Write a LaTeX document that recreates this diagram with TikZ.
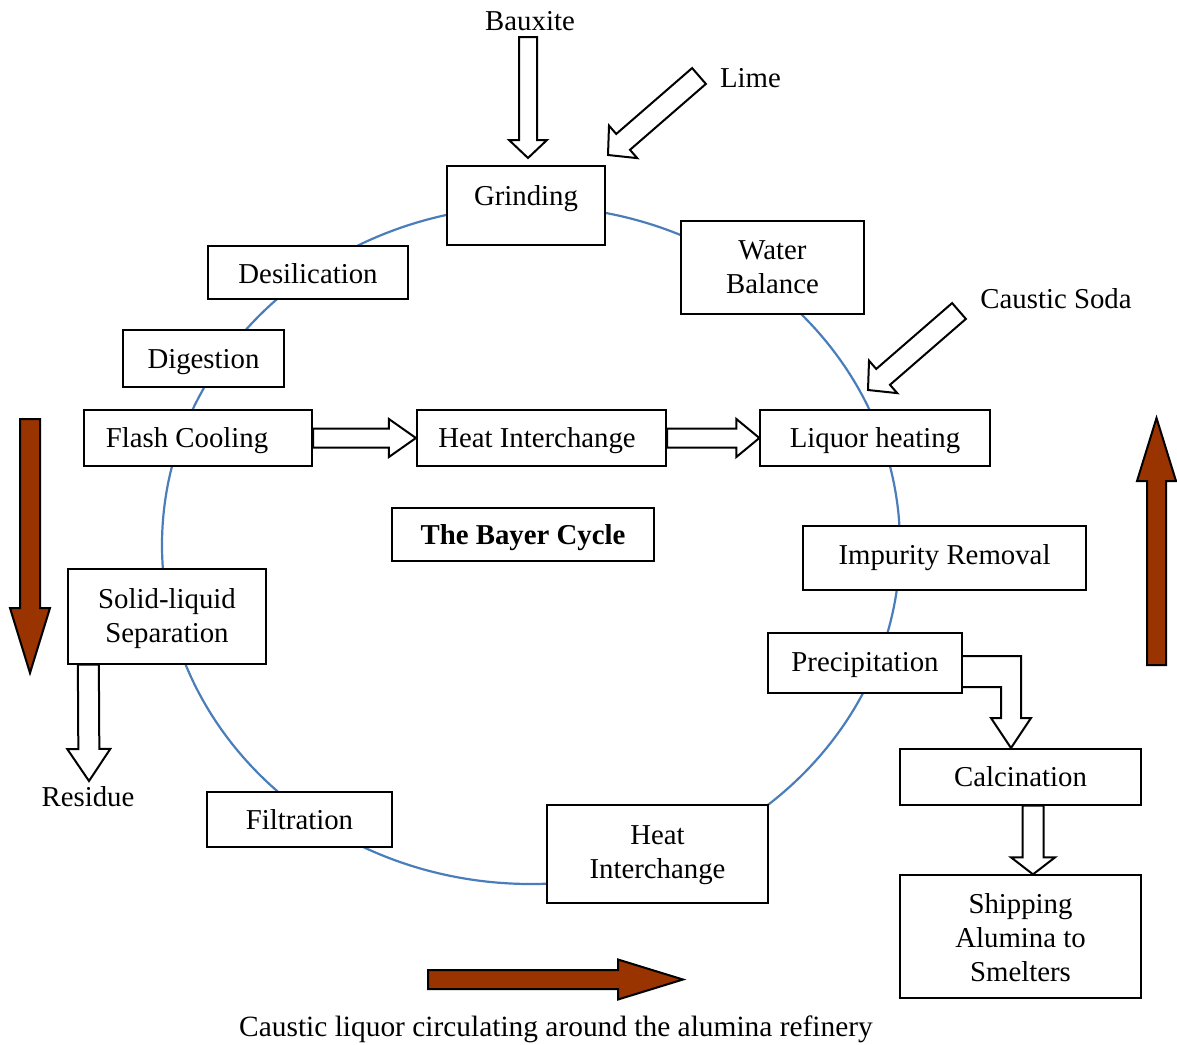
\documentclass[tikz,border=0pt]{standalone}
\usepackage{fontspec}
\setmainfont{Liberation Serif}
\usetikzlibrary{calc}
\pgfdeclarelayer{background}
\pgfsetlayers{background,main}
\definecolor{ringblue}{RGB}{74,126,187}
\definecolor{liquorbrown}{RGB}{153,51,0}
\tikzset{
  box/.style={draw=black, fill=white, line width=1.3pt, inner sep=0pt, align=center,
    font=\fontsize{28.8}{34}\selectfont,
    execute at begin node=\strut, execute at end node=\strut},
  thickbox/.style={box, line width=2.2pt},
  txt/.style={inner sep=0pt, align=center, font=\fontsize{28.8}{34}\selectfont,
    execute at begin node=\strut, execute at end node=\strut},
  liftup/.style={execute at end node={\rule[-#1]{0pt}{#1}}},
  lowerby/.style={execute at begin node={\rule{0pt}{#1}}},
  padright/.style={execute at end node={\hspace*{#1}}},
  hollowarrow/.style={draw=black, fill=white, line width=2pt, line join=miter},
  brownarrow/.style={draw=black, fill=liquorbrown, line width=2pt, line join=miter},
  ringline/.style={draw=ringblue, line width=2.2pt},
}
\newcommand\tallfirst[1]{\rule{0pt}{#1}}
% [style]{start}{tip}{half shaft}{half head}{head length}
\newcommand\blockarrow[6][hollowarrow]{%
  \coordinate (baA) at (#2);
  \coordinate (baB) at (#3);
  \coordinate (baC) at ($(baB)!#6!(baA)$);
  \draw[#1] ($(baA)!#4!90:(baB)$) -- ($(baC)!#4!90:(baB)$) -- ($(baC)!#5!90:(baB)$)
    -- (baB) -- ($(baC)!#5!-90:(baB)$) -- ($(baC)!#4!-90:(baB)$)
    -- ($(baA)!#4!-90:(baB)$) -- cycle;
}
\begin{document}
\begin{tikzpicture}[x=1pt,y=-1pt]
\useasboundingbox (0,0) rectangle (1177,1044);

% boxes
\node[thickbox, minimum width=158pt, minimum height=79pt, liftup=24pt] (grind) at (526,205.5) {Grinding};
\node[box, minimum width=200pt, minimum height=53pt, lowerby=32pt] (desil) at (308,272.5) {Desilication};
\node[box, minimum width=161pt, minimum height=57pt, lowerby=30pt] (digest) at (203.5,358.5) {Digestion};
\node[thickbox, minimum width=228pt, minimum height=56pt, lowerby=29pt, padright=22pt] (flash) at (198,438) {Flash Cooling};
\node[thickbox, minimum width=249pt, minimum height=56pt, lowerby=29pt, padright=9pt] (heat1) at (541.5,438) {Heat Interchange};
\node[box, minimum width=230pt, minimum height=56pt, lowerby=29pt] (liquor) at (875,438) {Liquor heating};
\node[box, minimum width=183pt, minimum height=93pt] (water) at (772.5,267.5) {\tallfirst{27.5pt}Water\\Balance};
\node[box, minimum width=262pt, minimum height=53pt, lowerby=31pt, font=\fontsize{28.8}{34}\selectfont\bfseries] (bayer) at (523,534.5) {The Bayer Cycle};
\node[box, minimum width=283pt, minimum height=64pt] (impurity) at (944.5,558) {Impurity Removal};
\node[box, minimum width=194pt, minimum height=60pt, lowerby=27pt] (precip) at (865,663) {Precipitation};
\node[box, minimum width=241pt, minimum height=56pt, lowerby=29pt] (calcin) at (1020.5,777) {Calcination};
\node[box, minimum width=241pt, minimum height=123pt] (ship) at (1020.5,936.5) {\tallfirst{32pt}Shipping\\Alumina to\\Smelters};
\node[box, minimum width=221pt, minimum height=98pt] (heat2) at (657.5,854) {\tallfirst{25.5pt}Heat\\Interchange};
\node[box, minimum width=185pt, minimum height=55pt, lowerby=31pt] (filt) at (299.5,819.5) {Filtration};
\node[box, minimum width=198pt, minimum height=95pt] (solid) at (167,616.5) {\tallfirst{27.5pt}Solid-liquid\\Separation};

% free texts
\node[txt] (bauxite) at (530,23.6) {Bauxite};
\node[txt] (lime) at (750.5,81) {Lime};
\node[txt] (caustic) at (1056,302) {Caustic Soda};
\node[txt] (residue) at (88,800) {Residue};
\node[txt, font=\fontsize{29.4}{34}\selectfont] (caption) at (556,1030) {Caustic liquor circulating around the alumina refinery};

% arrow end points
\coordinate (bxtail) at (528,37);
\coordinate (bxtip) at (528,158);
\coordinate (limetail) at (699,76);
\coordinate (limetip) at (608,155);
\coordinate (cstail) at (959,311);
\coordinate (cstip) at (868,390);
\coordinate (restip) at (89,781);
\coordinate (elbowtip) at (1011,748);

\begin{pgfonlayer}{background}
\fill[white] (0,0) rectangle (1177,1044);
\draw[ringline] (531,545) ellipse [x radius=369pt, y radius=339pt];

\blockarrow{bxtail}{bxtip}{9pt}{19pt}{18pt}
\blockarrow{limetail}{limetip}{10.5pt}{21.5pt}{20pt}
\blockarrow{cstail}{cstip}{10.5pt}{21.5pt}{20pt}
\blockarrow{flash.east}{heat1.west}{9.5pt}{19pt}{27pt}
\blockarrow{heat1.east}{liquor.west}{9.5pt}{19pt}{23pt}
\blockarrow{$(solid.south west)+(21,0)$}{restip}{10.5pt}{21.5pt}{32pt}
\blockarrow{$(calcin.south)+(12.5,0)$}{$(ship.north)+(12.5,0)$}{10.5pt}{22pt}{17pt}

\draw[hollowarrow] ($(precip.east)+(0,-7)$) -| ($(elbowtip)+(10,-30)$) -- ++(10,0)
  -- (elbowtip) -- ++(-20,-30) -- ++(10,0) |- ($(precip.east)+(0,24)$);

% circulation arrows
\coordinate (ldtail) at (30,419);
\coordinate (ldtip) at (30,673);
\coordinate (rutail) at (1156.5,665);
\coordinate (rutip) at (1156.5,418);
\coordinate (bttail) at (428,979.5);
\coordinate (bttip) at (683,979.5);
\blockarrow[brownarrow]{ldtail}{ldtip}{10pt}{20pt}{65pt}
\blockarrow[brownarrow]{rutail}{rutip}{9.5pt}{19.5pt}{63pt}
\blockarrow[brownarrow]{bttail}{bttip}{9.5pt}{20pt}{65pt}
\end{pgfonlayer}
\end{tikzpicture}
\end{document}
